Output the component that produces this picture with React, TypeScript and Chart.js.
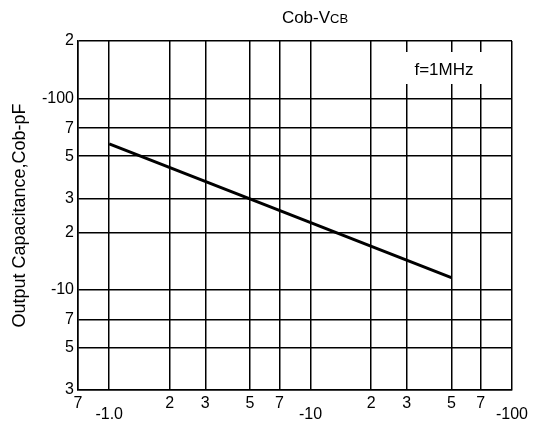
import React, { useEffect, useRef } from "react";
import { Chart, registerables } from "chart.js";

Chart.register(...registerables);

// Data
const vcbValues = [1, 50]; // collector-base voltage (magnitude, V)
const cobValues = [58, 11.6]; // output capacitance (pF)

const xTickValues = [0.7, 1, 2, 3, 5, 7, 10, 20, 30, 50, 70, 100];
const xTickLabels: (string | string[])[] = ["7", ["", "-1.0"], "2", "3", "5", "7", ["", "-10"], "2", "3", "5", "7", ["", "-100"]];
const yTickValues = [3, 5, 7, 10, 20, 30, 50, 70, 100, 200];
const yTickLabels = ["3", "5", "7", "-10", "2", "3", "5", "7", "-100", "2"];

const titleMain = "Cob-V";
const titleSub = "CB";
const yTitle = "Output Capacitance,Cob-pF";
const noteText = "f=1MHz";

const FONT = "'Liberation Sans', Arial, Helvetica, sans-serif";

const textPlugin = {
  id: "textPlugin",
  beforeDatasetsDraw(chart: any) {
    const ctx = chart.ctx;
    const a = chart.chartArea;
    // note box with white background interrupting the grid
    ctx.save();
    ctx.fillStyle = "#ffffff";
    ctx.fillRect(a.right - 110, a.top + 11, 92, 32);
    ctx.fillStyle = "#000000";
    ctx.font = `17px ${FONT}`;
    ctx.textAlign = "center";
    ctx.textBaseline = "middle";
    ctx.fillText(noteText, a.right - 68, a.top + 29);
    ctx.restore();
  },
  afterDraw(chart: any) {
    const ctx = chart.ctx;
    ctx.save();
    ctx.fillStyle = "#000000";
    ctx.textBaseline = "alphabetic";
    ctx.textAlign = "left";
    const f1 = `17px ${FONT}`;
    const f2 = `13px ${FONT}`;
    ctx.font = f1;
    const w1 = ctx.measureText(titleMain).width;
    ctx.font = f2;
    const w2 = ctx.measureText(titleSub).width;
    const cx = 315;
    const x0 = cx - (w1 + w2) / 2;
    ctx.font = f1;
    ctx.fillText(titleMain, x0, 23);
    ctx.font = f2;
    ctx.fillText(titleSub, x0 + w1, 23);
    ctx.restore();
  },
};

export default function App() {
  const canvasRef = useRef<HTMLCanvasElement | null>(null);

  useEffect(() => {
    const canvas = canvasRef.current;
    if (!canvas) return;
    const chart = new Chart(canvas, {
      type: "line",
      data: {
        datasets: [
          {
            data: vcbValues.map((v, i) => ({ x: v, y: cobValues[i] })),
            borderColor: "#000000",
            borderWidth: 3,
            pointRadius: 0,
            fill: false,
            tension: 0,
          },
        ],
      },
      options: {
        animation: false,
        responsive: false,
        devicePixelRatio: 1,
        layout: { padding: { top: 41, right: 21, left: 0, bottom: 0 } },
        plugins: {
          legend: { display: false },
          title: { display: false },
          tooltip: { enabled: false },
        },
        scales: {
          x: {
            type: "logarithmic",
            min: 0.7,
            max: 100,
            afterBuildTicks: (scale: any) => {
              scale.ticks = xTickValues.map((v) => ({ value: v }));
            },
            afterFit: (scale: any) => {
              scale.height = 35;
            },
            grid: { color: "#000000", lineWidth: 1.5, drawTicks: false },
            border: { display: true, color: "#000000", width: 1.5 },
            ticks: {
              autoSkip: false,
              maxRotation: 0,
              padding: 8,
              color: "#000000",
              font: { family: FONT, size: 16, lineHeight: "11px" },
              callback: (_v: any, i: number) => xTickLabels[i],
            },
          },
          y: {
            type: "logarithmic",
            min: 3,
            max: 200,
            afterBuildTicks: (scale: any) => {
              scale.ticks = yTickValues.map((v) => ({ value: v }));
            },
            afterFit: (scale: any) => {
              scale.width = 78;
            },
            grid: { color: "#000000", lineWidth: 1.5, drawTicks: false },
            border: { display: true, color: "#000000", width: 1.5 },
            ticks: {
              autoSkip: false,
              padding: 4,
              color: "#000000",
              font: { family: FONT, size: 16 },
              callback: (_v: any, i: number) => yTickLabels[i],
            },
            title: {
              display: true,
              text: yTitle,
              color: "#000000",
              font: { family: FONT, size: 18 },
              padding: { top: 9, bottom: 0 },
            },
          },
        },
      },
      plugins: [textPlugin],
    } as any);
    return () => chart.destroy();
  }, []);

  return (
    <div style={{ position: "absolute", left: 0, top: 0, width: 536, height: 425, background: "#fff" }}>
      <canvas ref={canvasRef} width={536} height={425} style={{ display: "block", width: 536, height: 425 }} />
    </div>
  );
}
